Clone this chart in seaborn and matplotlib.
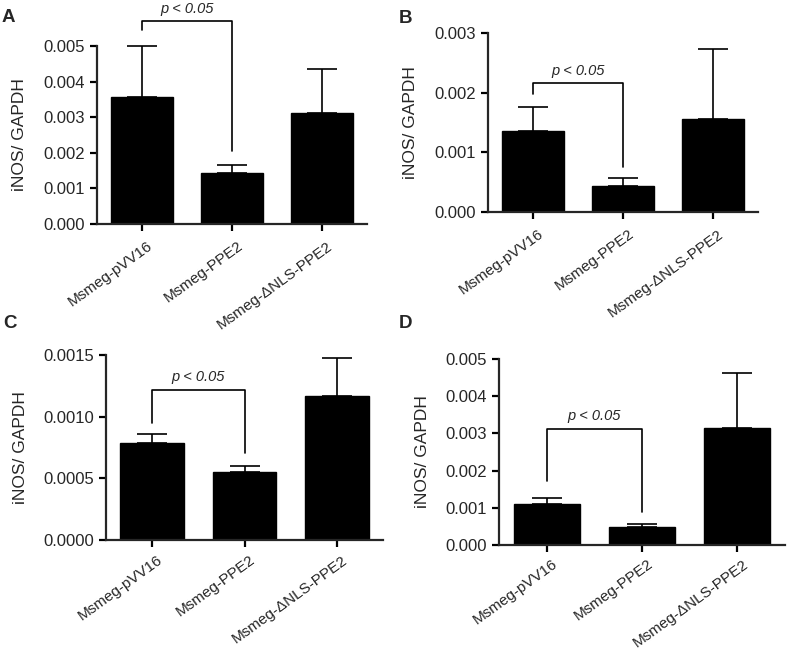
import numpy as np
import matplotlib
matplotlib.use("Agg")
import matplotlib.pyplot as plt
import matplotlib.transforms as mtransforms
import seaborn as sns

sns.set_style("ticks")
plt.rcParams["font.family"] = ["Liberation Sans", "DejaVu Sans"]

# strains (x categories)
strains = ["Msmeg-pVV16", "Msmeg-PPE2", "Msmeg-\u0394NLS-PPE2"]

# iNOS / GAPDH means and upper SEM
means_a = [0.00357, 0.00143, 0.00312]
sem_a = [0.00143, 0.00023, 0.00123]
means_b = [0.00136, 0.00044, 0.00156]
sem_b = [0.00040, 0.00013, 0.00117]
means_c = [0.000786, 0.000551, 0.001168]
sem_c = [0.000074, 0.000050, 0.000308]
means_d = [0.00110, 0.00048, 0.00315]
sem_d = [0.00016, 0.00008, 0.00147]

# y axis ticks per panel
ticks_a = [0.000, 0.001, 0.002, 0.003, 0.004, 0.005]
ticks_b = [0.000, 0.001, 0.002, 0.003]
ticks_c = [0.0000, 0.0005, 0.0010, 0.0015]
ticks_d = [0.000, 0.001, 0.002, 0.003, 0.004, 0.005]

# significance bracket: [top, left leg end, right leg end]
bracket_a = [0.0057, 0.00545, 0.00205]
bracket_b = [0.00216, 0.00198, 0.00075]
bracket_c = [0.00122, 0.00095, 0.000705]
bracket_d = [0.00312, 0.00172, 0.00089]

W, H = 787, 649
fig = plt.figure(figsize=(W / 100, H / 100), dpi=100)


def px_axes(left, right, top, bottom):
    return fig.add_axes([left / W, 1 - bottom / H, (right - left) / W, (bottom - top) / H])


def draw_panel(ax, means, sem, ticks, fmt, bracket, label_x, drop):
    sns.barplot(x=strains, y=means, color="black", saturation=1, width=0.69,
                edgecolor="black", ax=ax, errorbar=None)
    pos = np.arange(len(strains))
    ax.errorbar(pos, means, yerr=[np.zeros(len(means)), sem], fmt="none",
                ecolor="black", elinewidth=1.2, capsize=11, capthick=1.2,
                clip_on=False)
    ax.set_xlim(-0.5, 2.5)
    ax.set_ylim(ticks[0], ticks[-1])
    ax.set_yticks(ticks)
    ax.set_yticklabels([fmt.format(t) for t in ticks])
    ax.set_ylabel("iNOS/ GAPDH", fontsize=12.5)
    ax.yaxis.set_label_coords(label_x, 0.5)
    ax.set_xlabel("")
    sns.despine(ax=ax)
    for s in ["left", "bottom"]:
        ax.spines[s].set_linewidth(1.6)
    ax.tick_params(axis="both", width=1.6, length=5, labelsize=12, color="black")
    ax.tick_params(axis="x", labelsize=11)
    shift = mtransforms.ScaledTranslation(0.05, -drop, fig.dpi_scale_trans)
    for lab in ax.get_xticklabels():
        lab.set_rotation(36)
        lab.set_ha("right")
        lab.set_rotation_mode("anchor")
        lab.set_transform(lab.get_transform() + shift)
    top, l_end, r_end = bracket
    ax.plot([0, 0, 1, 1], [l_end, top, top, r_end], color="black", lw=1.2,
            clip_on=False)
    ax.annotate("p < 0.05", xy=(0.5, top), xytext=(0, 4), textcoords="offset points",
                ha="center", va="bottom", fontsize=10.5, style="italic",
                annotation_clip=False)


ax_a = px_axes(97, 367, 46, 224)
draw_panel(ax_a, means_a, sem_a, ticks_a, "{:.3f}", bracket_a, -0.259, 0.03)
ax_b = px_axes(488, 758, 33, 212)
draw_panel(ax_b, means_b, sem_b, ticks_b, "{:.3f}", bracket_b, -0.259, 0.03)
ax_c = px_axes(106, 383, 355, 540)
draw_panel(ax_c, means_c, sem_c, ticks_c, "{:.4f}", bracket_c, -0.282, 0.01)
ax_d = px_axes(499, 785, 359, 545)
draw_panel(ax_d, means_d, sem_d, ticks_d, "{:.3f}", bracket_d, -0.241, 0.0)

for letter, x, y in [("A", 2, 9), ("B", 399, 10), ("C", 3, 315), ("D", 399, 315)]:
    fig.text(x / W, 1 - y / H, letter, fontsize=13.5, fontweight="bold",
             ha="left", va="top")

fig.savefig("out.png", dpi=100)
